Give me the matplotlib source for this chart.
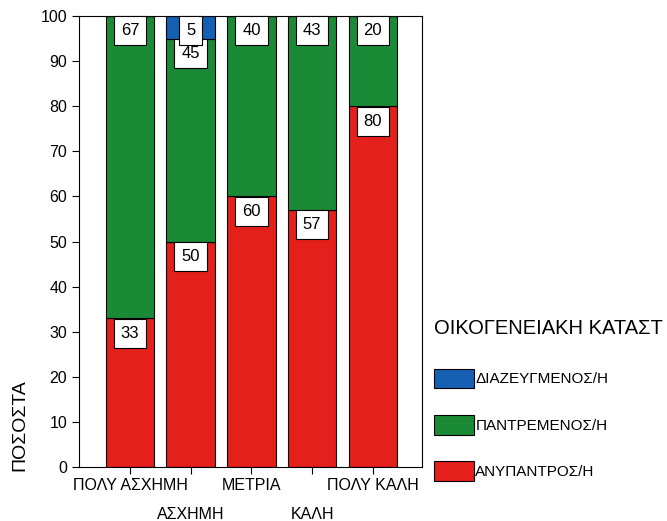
import matplotlib.pyplot as plt
import numpy as np

plt.rcParams['font.family'] = ['Liberation Sans', 'DejaVu Sans']

# --- Data ---
categories = ["ΠΟΛΥ ΑΣΧΗΜΗ", "ΑΣΧΗΜΗ", "ΜΕΤΡΙΑ", "ΚΑΛΗ", "ΠΟΛΥ ΚΑΛΗ"]
unmarried = [33, 50, 60, 57, 80]   # ΑΝΥΠΑΝΤΡΟΣ/Η
married = [67, 45, 40, 43, 20]     # ΠΑΝΤΡΕΜΕΝΟΣ/Η
divorced = [0, 5, 0, 0, 0]         # ΔΙΑΖΕΥΓΜΕΝΟΣ/Η

series = [
    ("ΑΝΥΠΑΝΤΡΟΣ/Η", unmarried, "#e3201b"),
    ("ΠΑΝΤΡΕΜΕΝΟΣ/Η", married, "#1b8a36"),
    ("ΔΙΑΖΕΥΓΜΕΝΟΣ/Η", divorced, "#1660b4"),
]

fig = plt.figure(figsize=(6.67, 5.21), dpi=100)
ax = fig.add_axes([79 / 667, 54 / 521, 343 / 667, 451 / 521])

x = np.arange(len(categories))
bottom = np.zeros(len(categories))
handles = []
for name, vals, color in series:
    vals = np.array(vals, dtype=float)
    bars = ax.bar(x, vals, width=0.8, bottom=bottom, color=color,
                  edgecolor="black", linewidth=0.8, label=name)
    handles.append(bars)
    # boxed value labels at the top of each segment
    for xi, b, v in zip(x, bottom, vals):
        if v > 0:
            ax.text(xi, b + v - 3.3, f"{int(v)}", ha="center", va="center",
                    fontsize=12,
                    bbox=dict(boxstyle="square,pad=0.42", fc="white",
                              ec="black", lw=0.8))
    bottom += vals

ax.set_xlim(-0.84, 4.81)
ax.set_ylim(0, 100)
ax.set_yticks(range(0, 101, 10))
ax.tick_params(axis="y", labelsize=11.5, direction="out", length=5)
ax.tick_params(axis="x", direction="out", length=5)
ax.set_xticks(x)
ax.set_xticklabels([])

# staggered category labels
for xi, lab in zip(x, categories):
    yoff = -0.04 if xi % 2 == 0 else -0.105
    ax.text(xi, yoff, lab, transform=ax.get_xaxis_transform(),
            ha="center", va="center", fontsize=11.5)

fig.text(20 / 667, 1 - 425 / 521, "ΠΟΣΟΣΤΑ", rotation=90,
         ha="center", va="center", fontsize=14)

leg = fig.legend(handles[::-1], [s[0] for s in series][::-1],
                 title="ΟΙΚΟΓΕΝΕΙΑΚΗ ΚΑΤΑΣΤ", loc="upper left",
                 bbox_to_anchor=(428 / 667, 1 - 313 / 521), frameon=False,
                 fontsize=11, title_fontsize=14.5, handlelength=2.6,
                 handleheight=1.6, labelspacing=1.75, handletextpad=0.1,
                 borderaxespad=0, alignment="left")
leg._legend_box.sep = 22

fig.savefig("out.png", dpi=100)
